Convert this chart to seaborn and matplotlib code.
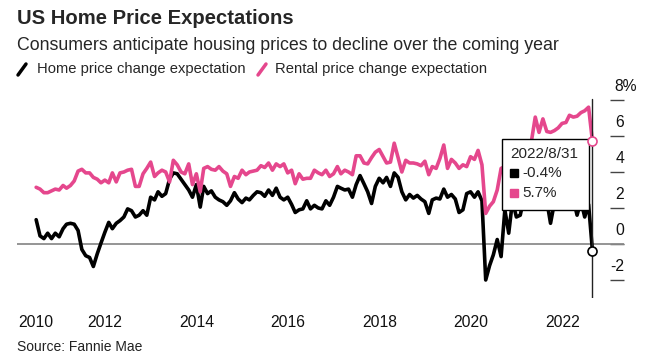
import matplotlib
matplotlib.use("Agg")
import pandas as pd
import matplotlib.pyplot as plt
import seaborn as sns
from matplotlib.lines import Line2D
from matplotlib.patches import Rectangle
from matplotlib.transforms import offset_copy

# monthly survey values, Jun 2010 - Aug 2022 (month end)
dates = pd.date_range("2010-06-30", periods=147, freq="ME")

home = [
    1.35, 0.45, 0.3, 0.6, 0.3, 0.6, 0.4, 0.85, 1.1, 1.15, 1.1, 0.75,
    -0.3, -0.65, -0.75, -1.25, -0.55, 0.05, 0.65, 1.2, 0.85, 1.15, 1.3, 1.5,
    1.95, 1.85, 1.5, 1.6, 1.85, 1.6, 2.6, 2.45, 2.9, 2.65, 2.8, 3.6,
    3.95, 3.9, 3.6, 3.3, 3.0, 2.6, 3.3, 2.05, 3.2, 2.8, 2.95, 2.6, 2.45,
    2.35, 2.15, 2.4, 2.85, 2.5, 2.3, 2.55, 2.45, 2.7, 2.9, 2.85, 2.65,
    3.0, 2.7, 3.1, 2.6, 2.45, 2.6, 2.2, 1.75, 1.9, 1.95, 2.4, 1.95, 2.15,
    2.0, 1.95, 2.4, 2.15, 2.6, 3.2, 3.1, 3.0, 3.05, 2.6, 3.3, 3.8,
    3.35, 2.9, 2.25, 3.2, 3.65, 3.4, 3.7, 3.2, 3.95, 3.7, 2.9, 2.45, 2.75,
    2.55, 2.7, 2.5, 2.35, 1.7, 2.45, 2.55, 2.5, 3.05, 2.6, 2.75, 2.5,
    1.75, 1.9, 2.8, 2.9, 2.6, 2.9, 2.4, -2.0, -1.2, -0.6, 0.25, -0.7,
    1.9, 0.6, 2.4, 1.5, 1.6, 2.5, 2.2, 2.6, 2.1, 2.3, 2.6, 2.4,
    1.15, 2.3, 2.5, 2.7, 2.6, 2.9, 2.5, 1.6, 2.4, 1.5, 2.2, -0.4,
]

rental = [
    3.15, 3.05, 2.85, 2.85, 2.95, 3.05, 3.0, 3.25, 3.1, 3.25, 3.5, 4.05,
    4.15, 3.95, 3.95, 3.7, 3.6, 3.4, 3.55, 3.4, 3.95, 3.45, 3.95, 4.0,
    4.1, 4.15, 3.2, 3.2, 3.9, 4.2, 4.55, 3.75, 3.95, 4.1, 4.0, 3.45,
    4.65, 4.4, 4.0, 3.9, 4.45, 3.3, 3.9, 2.9, 4.2, 4.3, 4.15, 4.1, 4.3,
    4.05, 3.9, 3.2, 3.75, 3.65, 4.1, 3.85, 4.0, 4.05, 4.1, 4.35, 4.25,
    4.5, 4.1, 4.45, 4.3, 4.45, 3.95, 4.1, 3.35, 3.9, 3.6, 3.65, 3.65, 4.1,
    3.95, 3.85, 4.1, 3.75, 3.9, 4.3, 3.9, 4.1, 4.0, 3.85, 4.9, 4.9,
    4.5, 4.45, 4.8, 5.1, 5.25, 4.85, 4.5, 4.55, 5.6, 4.8, 4.0, 4.65, 4.5,
    4.5, 4.45, 4.35, 4.6, 3.85, 4.3, 4.2, 4.75, 5.5, 4.2, 4.7, 4.5,
    4.2, 4.4, 4.3, 4.85, 4.7, 5.2, 4.4, 1.7, 2.1, 2.35, 3.0, 4.2,
    4.3, 4.7, 4.5, 5.0, 5.3, 5.1, 5.5, 5.7, 7.05, 6.2, 6.95, 6.25,
    6.2, 6.3, 6.45, 6.7, 6.75, 7.15, 7.05, 7.1, 7.3, 7.4, 7.6, 5.7,
]

series_names = ["Home price change expectation", "Rental price change expectation"]
colors = {series_names[0]: "#000000", series_names[1]: "#e5478d"}

year_ticks = [dates[0]] + [pd.Timestamp(f"{y}-01-01") for y in range(2012, 2023, 2)]
year_labels = ["2010", "2012", "2014", "2016", "2018", "2020", "2022"]
y_ticks = [-2, 0, 2, 4, 6, 8]
y_labels = ["-2", "0", "2", "4", "6", "8%"]

df = pd.DataFrame({
    "date": list(dates) * 2,
    "value": home + rental,
    "series": [series_names[0]] * len(home) + [series_names[1]] * len(rental),
})

sns.set_style("white")
plt.rcParams["font.family"] = ["Liberation Sans", "DejaVu Sans"]

W, H = 646, 362
fig = plt.figure(figsize=(W / 100, H / 100), dpi=100)
ax = fig.add_axes([17 / W, 1 - 298 / H, 607 / W, 206 / H])

ax.axhline(0, color="#8c8c8c", lw=1.3, zorder=1)
sns.lineplot(data=df, x="date", y="value", hue="series", palette=colors,
             linewidth=2.6, legend=False, ax=ax, zorder=3)

ax.set_xlim(pd.Timestamp("2010-01-28"), pd.Timestamp("2023-05-10"))
ax.set_ylim(-3.0, 8.444)
for s in ax.spines.values():
    s.set_visible(False)
ax.set_xlabel("")
ax.set_ylabel("")

ax.set_xticks(year_ticks)
ax.set_xticklabels(year_labels, fontsize=11.3, color="#111")
ax.tick_params(axis="x", direction="out", length=4, width=1, color="#333", pad=8)

ax.yaxis.tick_right()
ax.set_yticks(y_ticks)
ax.set_yticklabels([])
ax.tick_params(axis="y", direction="in", length=10, width=1, color="#444")
for v, lab in zip(y_ticks, y_labels):
    dx = 13 if lab.endswith("%") else 0
    tr = offset_copy(ax.get_yaxis_transform(), fig=fig, x=dx, y=13, units="dots")
    ax.text(1.0, v, lab, transform=tr, ha="right", va="center", fontsize=11.3, color="#111")

# hover cursor on the last observation
last = dates[-1]
ax.axvline(last, ymin=0, ymax=0.966, color="#222", lw=1, zorder=4)
ax.plot([last], [home[-1]], "o", mfc="white", mec="black", ms=6.5, mew=1.2, zorder=8, clip_on=False)
ax.plot([last], [rental[-1]], "o", mfc="white", mec=colors[series_names[1]], ms=6.5, mew=1.2, zorder=8, clip_on=False)

ax.add_patch(Rectangle((0.799, 0.427), 0.143, 0.345, transform=ax.transAxes,
                       facecolor="white", edgecolor="black", lw=1, zorder=6))
ax.text(0.812, 0.699, f"{last.year}/{last.month}/{last.day}", transform=ax.transAxes,
        fontsize=11, va="center", ha="left", zorder=7)
for yy, val, name in [(0.607, home[-1], series_names[0]), (0.510, rental[-1], series_names[1])]:
    ax.plot([0.819], [yy], "s", color=colors[name], ms=6, transform=ax.transAxes, zorder=7, clip_on=False)
    ax.text(0.832, yy, f"{val:.1f}%", transform=ax.transAxes, fontsize=11, va="center", ha="left", zorder=7)

# titles
fig.text(17 / W, 1 - 19 / H, "US Home Price Expectations", fontsize=14.6, fontweight="bold", va="center")
fig.text(17 / W, 1 - 45 / H, "Consumers anticipate housing prices to decline over the coming year",
         fontsize=12.8, va="center")

# legend
fig.add_artist(Line2D([18 / W, 26 / W], [1 - 75 / H, 1 - 64 / H], color=colors[series_names[0]],
                      lw=2.5, transform=fig.transFigure))
fig.text(37 / W, 1 - 69 / H, series_names[0], fontsize=10.6, va="center")
fig.add_artist(Line2D([258 / W, 266 / W], [1 - 75 / H, 1 - 64 / H], color=colors[series_names[1]],
                      lw=2.5, transform=fig.transFigure))
fig.text(275 / W, 1 - 69 / H, series_names[1], fontsize=10.6, va="center")

fig.text(17 / W, 1 - 347 / H, "Source: Fannie Mae", fontsize=10, va="center", color="#222")

fig.savefig("out.png", dpi=100)
